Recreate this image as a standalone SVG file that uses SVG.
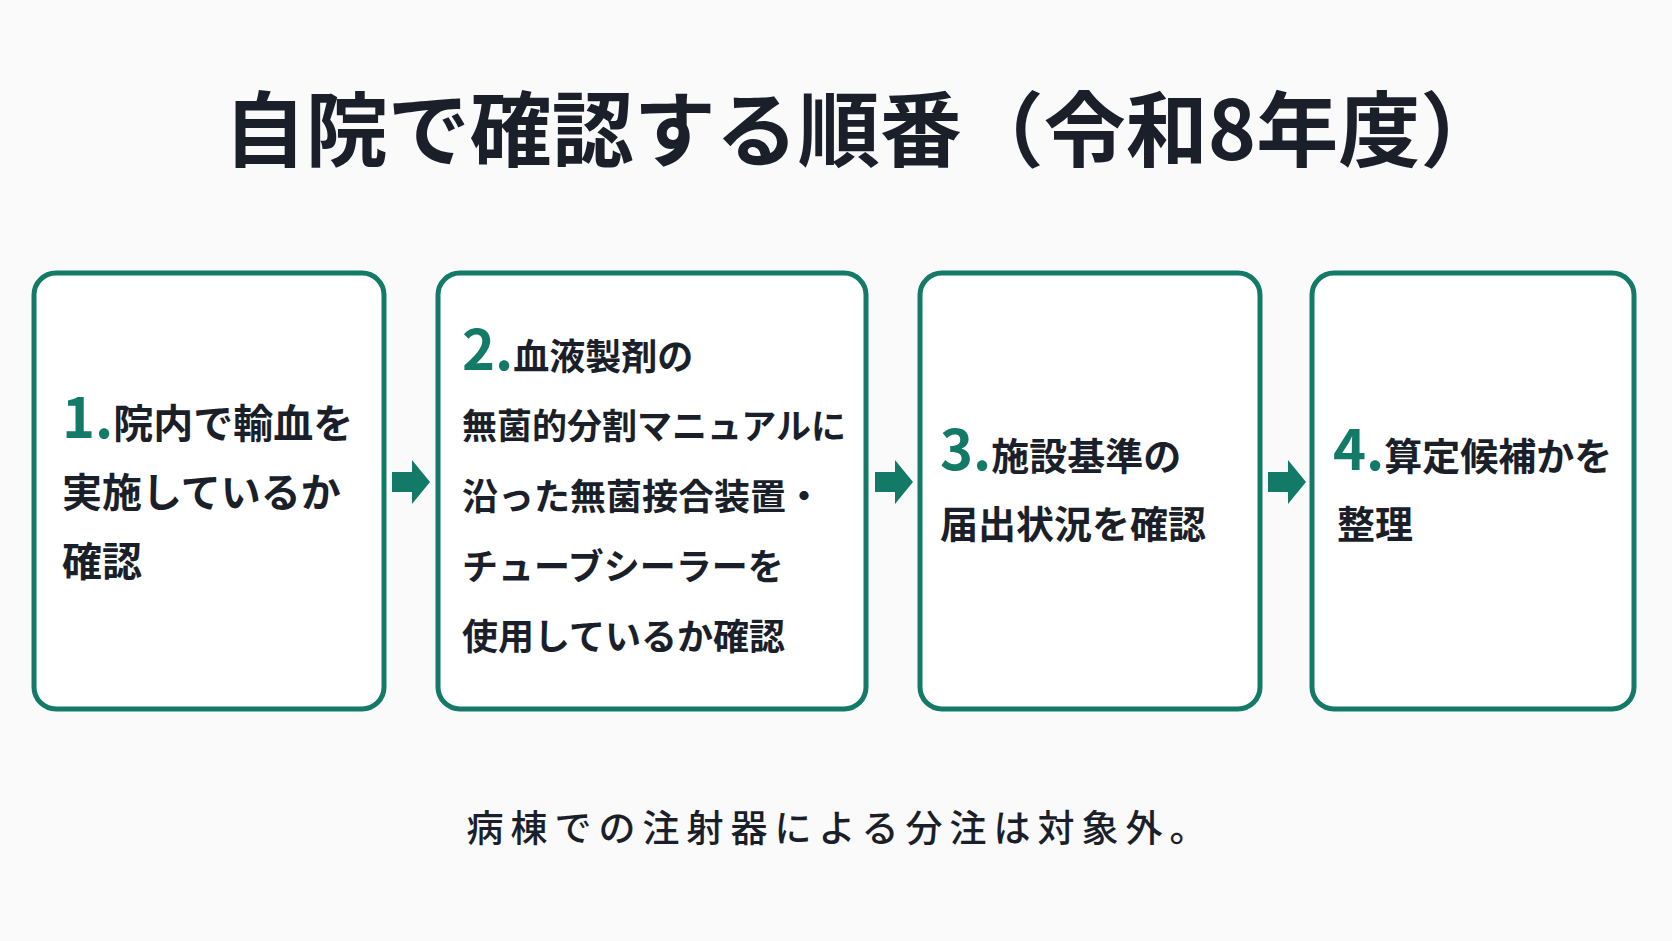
<svg xmlns="http://www.w3.org/2000/svg" width="1672" height="941" viewBox="0 0 1672 941">
<style>
.box{fill:#fff;stroke:#137a68;stroke-width:5}
.t{font-family:"Noto Sans CJK JP",sans-serif;font-weight:700;fill:#1b1f2a}
.n{font-family:"Noto Sans CJK JP",sans-serif;font-weight:700;fill:#137a68}
.ar{fill:#137a68}
</style>
<defs><path id="arr" d="M0,-10 H20 V-22 L38,0 L20,22 V10 H0 Z"/></defs>
<rect width="1672" height="941" fill="#fafafa"/>
<text x="863" y="160" text-anchor="middle" class="t" font-size="82">自院で確認する順番（令和8年度）</text>
<g id="node1">
<rect class="box" x="34" y="273" width="350" height="436" rx="22"/>
<text x="62" y="438" class="t" font-size="40"><tspan class="n" font-size="56">1.</tspan>院内で輸血を</text>
<text x="62" y="507" class="t" font-size="40">実施しているか</text>
<text x="62" y="576" class="t" font-size="40">確認</text>
</g>
<g id="node2">
<rect class="box" x="438" y="273" width="428" height="436" rx="22"/>
<text x="462" y="370" class="t" font-size="36"><tspan class="n" font-size="56">2.</tspan>血液製剤の</text>
<text x="462" y="439" class="t" font-size="35">無菌的分割マニュアルに</text>
<text x="462" y="510" class="t" font-size="36">沿った無菌接合装置・</text>
<text x="462" y="580" class="t" font-size="36">チューブシーラーを</text>
<text x="462" y="650" class="t" font-size="36">使用しているか確認</text>
</g>
<g id="node3">
<rect class="box" x="920" y="273" width="340" height="436" rx="22"/>
<text x="940" y="470" class="t" font-size="38"><tspan class="n" font-size="56">3.</tspan>施設基準の</text>
<text x="940" y="538" class="t" font-size="38">届出状況を確認</text>
</g>
<g id="node4">
<rect class="box" x="1312" y="273" width="322" height="436" rx="22"/>
<text x="1333" y="470" class="t" font-size="38"><tspan class="n" font-size="56">4.</tspan>算定候補かを</text>
<text x="1337" y="538" class="t" font-size="38">整理</text>
</g>
<g id="connectors">
<use href="#arr" class="ar" x="392" y="482"/>
<use href="#arr" class="ar" x="875" y="482"/>
<use href="#arr" class="ar" x="1268" y="482"/>
</g>
<text x="840" y="842" text-anchor="middle" font-family="Noto Sans CJK JP,sans-serif" font-weight="500" font-size="37" fill="#1b1f2a" letter-spacing="7">病棟での注射器による分注は対象外。</text>
</svg>
